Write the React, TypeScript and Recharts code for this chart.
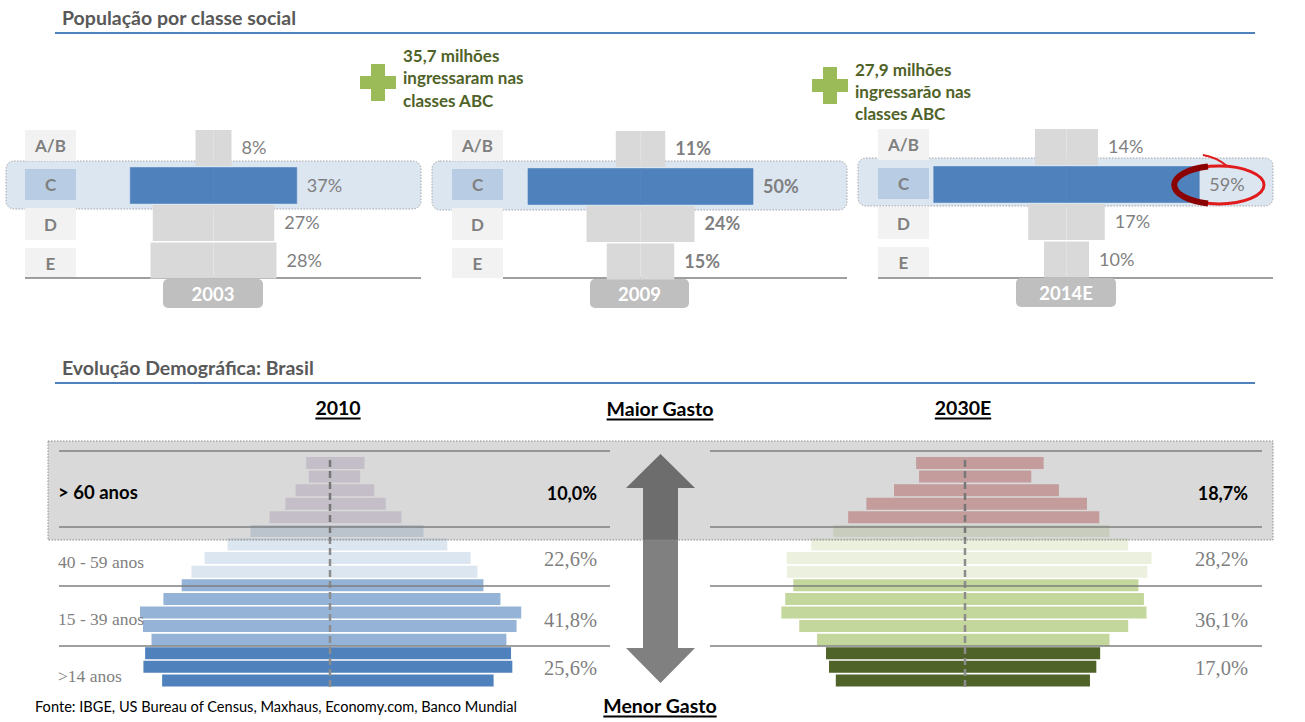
import React from 'react'
import { BarChart, Bar, XAxis, YAxis, Cell, LabelList, ReferenceLine } from 'recharts'

// População por classe social (% da população)
const CLASSES = ['A/B', 'C', 'D', 'E']
const YEARS = ['2003', '2009', '2014E']
const SHARE_2003 = [8, 37, 27, 28]
const SHARE_2009 = [11, 50, 24, 15]
const SHARE_2014 = [14, 59, 17, 10]

// Pirâmide etária (% da população por sexo), do topo (80+) à base (0-4)
const AGE_GROUPS = ['80+', '75-79', '70-74', '65-69', '60-64', '55-59', '50-54', '45-49', '40-44',
  '35-39', '30-34', '25-29', '20-24', '15-19', '10-14', '5-9', '0-4']
const MEN_2010 = [0.56, 0.5, 0.81, 1.05, 1.42, 1.87, 2.41, 2.95, 3.26, 3.49, 3.92, 4.47, 4.4, 4.2, 4.35, 4.39, 3.95]
const WOMEN_2010 = [0.81, 0.71, 1.04, 1.31, 1.68, 2.2, 2.76, 3.31, 3.47, 3.61, 4.01, 4.5, 4.39, 4.15, 4.26, 4.29, 3.85]
const MEN_2030 = [1.15, 1.08, 1.67, 2.32, 2.75, 3.1, 3.62, 4.2, 4.19, 4.04, 4.23, 4.32, 3.9, 3.48, 3.27, 3.2, 3.04]
const WOMEN_2030 = [1.85, 1.56, 2.21, 2.87, 3.16, 3.4, 3.84, 4.39, 4.29, 4.08, 4.21, 4.27, 3.84, 3.4, 3.18, 3.09, 2.94]

const BAND_LABELS = ['> 60 anos', '40 - 59 anos', '15 - 39 anos', '>14 anos']
const BAND_2010 = ['10,0%', '22,6%', '41,8%', '25,6%']
const BAND_2030 = ['18,7%', '28,2%', '36,1%', '17,0%']

const SANS = "Lato, 'Open Sans', sans-serif"
const SERIF = "'Liberation Serif', serif"
const GRAY_TXT = '#7f7f7f'
const COLORS_2010 = ['#e6e0ec', '#dce6f1', '#95b3d7', '#4f81bd']
const COLORS_2030 = ['#e6b8b7', '#ebf1de', '#c3d69b', '#4f6228']

const bandOf = (i: number) => (i < 5 ? 0 : i < 9 ? 1 : i < 14 ? 2 : 3)

// layout of the three top panels
const PANELS = [
  { center: 213, top: 129, boxX: 25, hl: [6, 421, 161, 209], line: [25, 421], year: [163, 263, 279], bold: false },
  { center: 640, top: 130, boxX: 452, hl: [432, 847, 161, 210], line: [503, 847], year: [590, 689, 279], bold: true },
  { center: 1066, top: 128, boxX: 878, hl: [858, 1273, 158, 206], line: [878, 1273], year: [1016, 1116, 278], bold: false },
]
const BOX_ROWS = [[130, 161], [169, 200], [208, 240], [248, 278]]

function ClassChart({ shares, center, top, bold }: { shares: number[]; center: number; top: number; bold: boolean }) {
  const data = shares.map((v, i) => ({ name: CLASSES[i], left: -v / 2, right: v / 2, pct: v }))
  const fill = (i: number) => (i === 1 ? '#4f81bd' : '#d9d9d9')
  return (
    <div style={{ position: 'absolute', left: center - 202.5, top, width: 405, height: 150 }}>
      <BarChart width={405} height={150} data={data} layout="vertical" stackOffset="sign"
        barCategoryGap={1} margin={{ top: 0, right: 0, bottom: 0, left: 0 }}>
        <XAxis type="number" domain={[-45, 45]} hide />
        <YAxis type="category" dataKey="name" hide />
        <Bar dataKey="left" stackId="s" isAnimationActive={false}>
          {data.map((d, i) => <Cell key={d.name} fill={fill(i)} stroke={i === 1 ? fill(i) : 'none'} strokeWidth={0.6} />)}
        </Bar>
        <Bar dataKey="right" stackId="s" isAnimationActive={false}>
          {data.map((d, i) => <Cell key={d.name} fill={fill(i)} stroke={i === 1 ? fill(i) : 'none'} strokeWidth={0.6} />)}
          <LabelList dataKey="pct" position="right" offset={10} formatter={(v: any) => `${v}%`}
            fill={GRAY_TXT} fontSize={18} fontFamily={SANS} fontWeight={bold ? 700 : 400} />
        </Bar>
      </BarChart>
    </div>
  )
}

function Pyramid({ men, women, center, colors }: { men: number[]; women: number[]; center: number; colors: string[] }) {
  const data = AGE_GROUPS.map((g, i) => ({ name: g, men: -men[i], women: women[i] }))
  return (
    <div style={{ position: 'absolute', left: center - 255, top: 455.5, width: 510, height: 231 }}>
      <BarChart width={510} height={231} data={data} layout="vertical" stackOffset="sign"
        barCategoryGap={1} margin={{ top: 0, right: 0, bottom: 0, left: 0 }}>
        <XAxis type="number" domain={[-6, 6]} hide />
        <YAxis type="category" dataKey="name" hide />
        <Bar dataKey="men" stackId="p" isAnimationActive={false}>
          {data.map((d, i) => <Cell key={d.name} fill={colors[bandOf(i)]} />)}
        </Bar>
        <Bar dataKey="women" stackId="p" isAnimationActive={false}>
          {data.map((d, i) => <Cell key={d.name} fill={colors[bandOf(i)]} />)}
        </Bar>
        <ReferenceLine x={0} stroke="#8c8c8c" strokeWidth={2.5} strokeDasharray="7 4" />
      </BarChart>
    </div>
  )
}

const plus = (x: number, y: number) =>
  `M${x + 11},${y} h14 v12 h11 v13 h-11 v12 h-14 v-12 h-11 v-13 h11 z`

function Header({ x, y, children }: { x: number; y: number; children: React.ReactNode }) {
  return (
    <div style={{
      position: 'absolute', left: x, top: y, transform: 'translate(-50%, -50%)', whiteSpace: 'nowrap',
      fontFamily: SANS, fontWeight: 700, fontSize: 19.5, color: '#000', textDecoration: 'underline',
      textDecorationThickness: 2, textUnderlineOffset: 3,
    }}>{children}</div>
  )
}

export default function App() {
  const shares = [SHARE_2003, SHARE_2009, SHARE_2014]
  const bandY = [492, 562, 619, 676]
  const pctY = [493, 559, 620, 668]
  const dividers = [451, 527, 586, 646]
  return (
    <div style={{ position: 'absolute', left: 0, top: 0, width: 1305, height: 722, background: '#fff', overflow: 'hidden' }}>
      {/* fundo */}
      <svg width={1305} height={722} style={{ position: 'absolute', left: 0, top: 0 }}>
        <text x={62} y={17.5} dominantBaseline="central" fontFamily={SANS} fontWeight={700} fontSize={19.5} fill="#595959">
          População por classe social
        </text>
        <rect x={55} y={32} width={1200} height={2} fill="#4f81bd" />
        <text x={62} y={367} dominantBaseline="central" fontFamily={SANS} fontWeight={700} fontSize={19.5} fill="#595959">
          Evolução Demográfica: Brasil
        </text>
        <rect x={55} y={382} width={1200} height={2} fill="#4f81bd" />

        <path d={plus(360, 64)} fill="#9bbb59" />
        {['35,7 milhões', 'ingressaram nas', 'classes ABC'].map((t, i) => (
          <text key={t} x={403} y={55 + i * 22.5} dominantBaseline="central" fontFamily={SANS} fontWeight={700} fontSize={17} fill="#4f6228">{t}</text>
        ))}
        <path d={plus(812, 67)} fill="#9bbb59" />
        {['27,9 milhões', 'ingressarão nas', 'classes ABC'].map((t, i) => (
          <text key={t} x={855} y={69 + i * 22} dominantBaseline="central" fontFamily={SANS} fontWeight={700} fontSize={17} fill="#4f6228">{t}</text>
        ))}

        {PANELS.map((p, k) => {
          const dy = k === 2 ? -1 : 0
          return (
            <g key={k}>
              <rect x={p.hl[0]} y={p.hl[2]} width={p.hl[1] - p.hl[0]} height={p.hl[3] - p.hl[2]} rx={8}
                fill="#dce6f1" stroke="#a6a6a6" strokeDasharray="1.5 1.5" />
              {CLASSES.map((c, i) => (
                <g key={c}>
                  <rect x={p.boxX} y={BOX_ROWS[i][0] + dy} width={51} height={BOX_ROWS[i][1] - BOX_ROWS[i][0]}
                    fill={i === 1 ? '#b8cce4' : '#f2f2f2'} />
                  <text x={p.boxX + 25.5} y={(BOX_ROWS[i][0] + BOX_ROWS[i][1]) / 2 + dy} textAnchor="middle"
                    dominantBaseline="central" fontFamily={SANS} fontWeight={700} fontSize={17} fill={GRAY_TXT}>{c}</text>
                </g>
              ))}
              <line x1={p.line[0]} x2={p.line[1]} y1={278} y2={278} stroke="#7f7f7f" strokeWidth={1.5} />
              <rect x={p.year[0]} y={p.year[2]} width={p.year[1] - p.year[0]} height={29} rx={5} fill="#bfbfbf" />
              <text x={(p.year[0] + p.year[1]) / 2} y={p.year[2] + 15} textAnchor="middle" dominantBaseline="central"
                fontFamily={SANS} fontWeight={700} fontSize={18.5} fill="#fff">{YEARS[k]}</text>
            </g>
          )
        })}

        {/* seta Maior / Menor gasto */}
        <path d="M660.5,454 L695,488 L678,488 L678,648 L695,648 L660.5,683 L626,648 L643,648 L643,488 L626,488 Z" fill="#808080" />
        <text x={35} y={706} dominantBaseline="central" fontFamily={SANS} fontSize={14.6} fill="#000">
          Fonte: IBGE, US Bureau of Census, Maxhaus, Economy.com, Banco Mundial
        </text>
      </svg>

      {PANELS.map((p, k) => (
        <ClassChart key={k} shares={shares[k]} center={p.center} top={p.top} bold={p.bold} />
      ))}
      <Pyramid men={MEN_2010} women={WOMEN_2010} center={330} colors={COLORS_2010} />
      <Pyramid men={MEN_2030} women={WOMEN_2030} center={965} colors={COLORS_2030} />

      {/* camada superior */}
      <svg width={1305} height={722} style={{ position: 'absolute', left: 0, top: 0, pointerEvents: 'none' }}>
        <ellipse cx={1219} cy={185} rx={45} ry={19} fill="none" stroke="#e11b1b" strokeWidth={3} />
        <path d="M1208,166.6 A45,19 0 0 0 1208,203.4" fill="none" stroke="#8b0000" strokeWidth={6} />
        <path d="M1203,155 Q1216,157 1227,166" fill="none" stroke="#e11b1b" strokeWidth={2} />

        <rect x={48} y={441} width={1225} height={99} fill="rgba(0,0,0,0.15)" stroke="#8c8c8c" strokeDasharray="1.5 1.5" />
        {dividers.map(y => (
          <g key={y}>
            <line x1={59} x2={610} y1={y} y2={y} stroke="#7f7f7f" strokeWidth={1.5} />
            <line x1={710} x2={1262} y1={y} y2={y} stroke="#7f7f7f" strokeWidth={1.5} />
          </g>
        ))}
        {BAND_LABELS.map((t, i) => (
          <text key={t} x={58} y={bandY[i]} dominantBaseline="central"
            fontFamily={i === 0 ? SANS : SERIF} fontWeight={i === 0 ? 700 : 400}
            fontSize={i === 0 ? 18.5 : 17.5} fill={i === 0 ? '#000' : GRAY_TXT}>{t}</text>
        ))}
        {BAND_2010.map((t, i) => (
          <text key={t} x={597} y={pctY[i]} textAnchor="end" dominantBaseline="central"
            fontFamily={i === 0 ? SANS : SERIF} fontWeight={i === 0 ? 700 : 400}
            fontSize={i === 0 ? 18 : 20.5} fill={i === 0 ? '#000' : GRAY_TXT}>{t}</text>
        ))}
        {BAND_2030.map((t, i) => (
          <text key={t} x={1248} y={pctY[i]} textAnchor="end" dominantBaseline="central"
            fontFamily={i === 0 ? SANS : SERIF} fontWeight={i === 0 ? 700 : 400}
            fontSize={i === 0 ? 18 : 20.5} fill={i === 0 ? '#000' : GRAY_TXT}>{t}</text>
        ))}
      </svg>

      <Header x={338} y={407}>2010</Header>
      <Header x={660} y={408}>Maior Gasto</Header>
      <Header x={963} y={407}>2030E</Header>
      <Header x={660} y={705}>Menor Gasto</Header>
    </div>
  )
}
